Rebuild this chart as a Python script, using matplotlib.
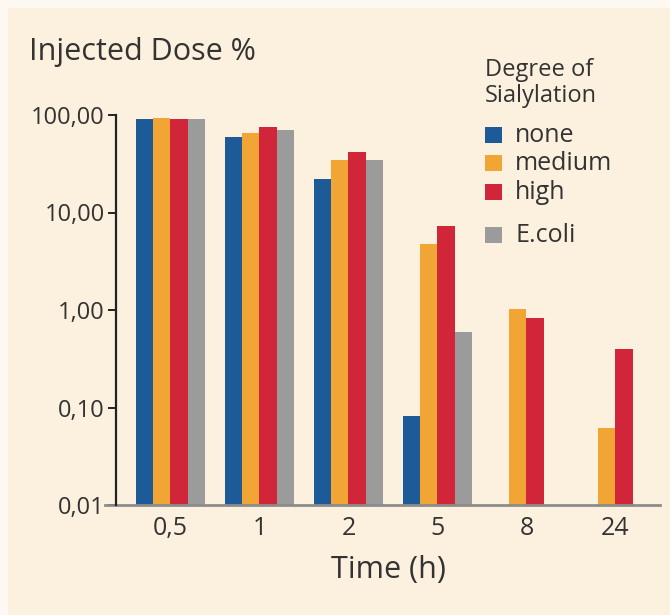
import numpy as np
import matplotlib
matplotlib.use("Agg")
import matplotlib.pyplot as plt
from matplotlib.patches import Rectangle
from matplotlib.ticker import FixedLocator, NullLocator

plt.rcParams['font.family'] = ['Open Sans', 'DejaVu Sans']

# values (injected dose %, log scale)
times = ['0,5', '1', '2', '5', '8', '24']
none = [90, 59, 22, 0.082, np.nan, np.nan]
medium = [94, 65, 34.5, 4.75, 1.02, 0.062]
high = [90, 75, 42, 7.3, 0.83, 0.40]
ecoli = [90, 70, 34.5, 0.59, np.nan, np.nan]

series_names = ['none', 'medium', 'high', 'E.coli']
series_colors = ['#1d5a98', '#f1a535', '#d1263a', '#9b9b9b']
ytick_vals = [0.01, 0.1, 1, 10, 100]
ytick_labels = ['0,01', '0,10', '1,00', '10,00', '100,00']

bg = '#fcf1de'
fig = plt.figure(figsize=(6.7, 6.15), dpi=100, facecolor='#fdf8f1')
fig.patches.append(Rectangle((8/670, 0), 1, 1 - 8/615, transform=fig.transFigure,
                             facecolor=bg, edgecolor='none', zorder=-1))

ax = fig.add_axes([116/670, 1 - 505/615, 544/670, 390/615])
ax.patch.set_alpha(0)

x = np.arange(len(times))
w = 0.193
for i, (vals, c) in enumerate(zip([none, medium, high, ecoli], series_colors)):
    ax.bar(x + (i - 1.5) * w, vals, width=w, color=c, edgecolor='none')

ax.set_yscale('log')
ax.set_ylim(0.01, 100)
ax.set_xlim(-0.612, 5.5)
ax.yaxis.set_major_locator(FixedLocator(ytick_vals))
ax.yaxis.set_minor_locator(NullLocator())
ax.set_yticklabels(ytick_labels)
ax.set_xticks(x)
ax.set_xticklabels(times)

for s in ['top', 'right']:
    ax.spines[s].set_visible(False)
ax.spines['left'].set_color('#222222')
ax.spines['left'].set_linewidth(1.6)
ax.spines['bottom'].set_visible(False)
ax.plot([-0.02, 1], [0, 0], transform=ax.transAxes, clip_on=False,
        color='#8c8c8c', lw=2)

ax.tick_params(axis='y', length=6, width=1.4, color='#222222', pad=2,
               labelsize=17, labelcolor='#333333')
ax.tick_params(axis='x', length=0, pad=8, labelsize=18, labelcolor='#333333')

ax.set_xlabel('Time (h)', fontsize=22, color='#333333', labelpad=10)

fig.text(29/670, 1 - 52/615, 'Injected Dose %', fontsize=22, color='#333333',
         va='center', ha='left')

# legend
fig.text(485/670, 1 - 70/615, 'Degree of', fontsize=17, color='#333333', va='center')
fig.text(485/670, 1 - 96/615, 'Sialylation', fontsize=17, color='#333333', va='center')
leg_y = [135, 163, 192, 235]
for name, c, yy in zip(series_names, series_colors, leg_y):
    fig.patches.append(Rectangle((485/670, 1 - (yy + 8)/615), 17/670, 16/615,
                                 transform=fig.transFigure, facecolor=c, edgecolor='none'))
    fig.text(515/670, 1 - yy/615, name, fontsize=18, color='#333333', va='center')

fig.savefig('out.png', dpi=100, facecolor=fig.get_facecolor())
